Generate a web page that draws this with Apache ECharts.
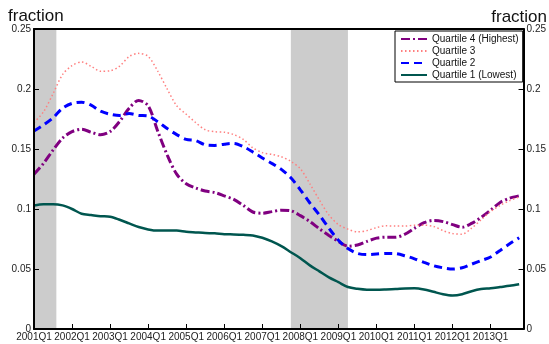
<!DOCTYPE html>
<html><head><meta charset="utf-8">
<script src="https://cdn.jsdelivr.net/npm/echarts@6/dist/echarts.min.js"></script>
<style>html,body{margin:0;padding:0;background:#fff}#c{width:549px;height:344px}</style>
</head><body><div id="c"></div>
<script>
const quarters = ['2001Q1','2001Q2','2001Q3','2001Q4','2002Q1','2002Q2','2002Q3','2002Q4','2003Q1','2003Q2','2003Q3','2003Q4',
'2004Q1','2004Q2','2004Q3','2004Q4','2005Q1','2005Q2','2005Q3','2005Q4','2006Q1','2006Q2','2006Q3','2006Q4',
'2007Q1','2007Q2','2007Q3','2007Q4','2008Q1','2008Q2','2008Q3','2008Q4','2009Q1','2009Q2','2009Q3','2009Q4',
'2010Q1','2010Q2','2010Q3','2010Q4','2011Q1','2011Q2','2011Q3','2011Q4','2012Q1','2012Q2','2012Q3','2012Q4',
'2013Q1','2013Q2','2013Q3','2013Q4'];
const xTickLabels = ['2001Q1','2002Q1','2003Q1','2004Q1','2005Q1','2006Q1','2007Q1','2008Q1','2009Q1','2010Q1','2011Q1','2012Q1','2013Q1'];
const yTicks = [0, 0.05, 0.1, 0.15, 0.2, 0.25];
const axisTitle = 'fraction';
const seriesNames = ['Quartile 4 (Highest)','Quartile 3','Quartile 2','Quartile 1 (Lowest)'];
const q4 = [0.129,0.138,0.149,0.159,0.1645,0.1665,0.164,0.1618,0.1645,0.173,0.184,0.1905,
0.186,0.165,0.145,0.129,0.121,0.1175,0.115,0.1137,0.111,0.108,0.103,0.0975,
0.0965,0.0978,0.099,0.0985,0.0945,0.0895,0.0835,0.078,0.073,0.069,0.070,0.073,
0.0757,0.0765,0.0765,0.079,0.084,0.0886,0.0905,0.0895,0.087,0.0848,0.088,0.093,
0.099,0.1055,0.109,0.111];
const q3 = [0.172,0.181,0.196,0.212,0.2195,0.2225,0.219,0.2148,0.2152,0.219,0.227,0.2297,
0.2272,0.215,0.200,0.186,0.179,0.172,0.166,0.1644,0.164,0.162,0.158,0.151,
0.147,0.1455,0.1435,0.1397,0.1335,0.121,0.1075,0.095,0.087,0.0832,0.081,0.082,
0.0845,0.086,0.0858,0.0858,0.0865,0.0865,0.0855,0.082,0.0795,0.079,0.084,0.091,
0.098,0.103,0.107,0.110];
const q2 = [0.165,0.170,0.176,0.184,0.188,0.189,0.1865,0.1815,0.179,0.178,0.1795,0.178,
0.1775,0.1728,0.167,0.162,0.158,0.157,0.1535,0.153,0.154,0.1547,0.152,0.1475,
0.1425,0.138,0.133,0.126,0.116,0.105,0.095,0.084,0.074,0.067,0.063,0.062,
0.0625,0.063,0.0628,0.061,0.0585,0.0555,0.0527,0.051,0.050,0.051,0.054,0.057,
0.060,0.0655,0.071,0.076];
const q1 = [0.103,0.104,0.104,0.103,0.100,0.096,0.095,0.094,0.0935,0.091,0.088,0.085,
0.083,0.082,0.082,0.082,0.081,0.0805,0.080,0.0797,0.079,0.0788,0.0785,0.078,
0.076,0.073,0.069,0.064,0.059,0.053,0.048,0.043,0.039,0.035,0.0335,0.0328,
0.0328,0.033,0.0333,0.0338,0.034,0.033,0.031,0.029,0.028,0.029,0.0315,0.0333,
0.034,0.035,0.036,0.0373];
// recession periods, in quarter positions (0 = 2001Q1)
const recessions = [[0, 2.35], [27, 33]];

const FONT = "'Liberation Sans', Arial, sans-serif";
const XMAX = 51.46;
const toPts = arr => arr.map((v, i) => [i, v]);

const chart = echarts.init(document.getElementById('c'), null, {renderer: 'canvas'});
const yAxisBase = {
  type: 'value', min: 0, max: 0.25, interval: 0.05,
  splitLine: {show: false}, z: 10,
  axisLine: {show: true, onZero: false, lineStyle: {color: '#000', width: 2}},
  axisTick: {show: true, inside: true, length: 5, lineStyle: {color: '#000', width: 1}},
  axisLabel: {fontSize: 10, color: '#222', fontFamily: FONT, margin: 3}
};
chart.setOption({
  animation: false,
  backgroundColor: '#fff',
  grid: {left: 34, right: 22, top: 29, bottom: 15, containLabel: false},
  graphic: [
    {type: 'text', left: 8, top: 8, style: {text: axisTitle, fontSize: 17, fill: '#111', fontFamily: FONT}},
    {type: 'text', right: 2, top: 9, style: {text: axisTitle, fontSize: 17, fill: '#111', fontFamily: FONT}}
  ],
  xAxis: [{
    type: 'value', min: 0, max: XMAX, interval: 4, z: 10,
    splitLine: {show: false},
    axisLine: {show: true, onZero: false, lineStyle: {color: '#000', width: 2}},
    axisTick: {show: true, inside: true, length: 5, lineStyle: {color: '#000', width: 1}},
    axisLabel: {fontSize: 10, color: '#222', fontFamily: FONT, margin: 3, showMaxLabel: false,
      formatter: v => (v % 4 === 0 && xTickLabels[v / 4]) || ''}
  }, {
    type: 'value', position: 'top', min: 0, max: XMAX, z: 10,
    splitLine: {show: false}, axisTick: {show: false}, axisLabel: {show: false},
    axisLine: {show: true, onZero: false, lineStyle: {color: '#000', width: 2}}
  }],
  yAxis: [
    Object.assign({}, yAxisBase, {position: 'left'}),
    Object.assign({}, yAxisBase, {position: 'right'})
  ],
  legend: {
    orient: 'vertical', left: 395, top: 31,
    itemWidth: 26, itemHeight: 8, itemGap: 2, padding: [3, 4, 2, 5],
    borderColor: '#000', borderWidth: 1, backgroundColor: '#fff',
    itemStyle: {opacity: 0},
    textStyle: {fontSize: 10, color: '#111', fontFamily: FONT},
    data: seriesNames, z: 20
  },
  series: [
    {type: 'line', name: 'recessions', data: [], z: 1, silent: true,
      markArea: {silent: true, itemStyle: {color: '#cccccc', opacity: 1},
        data: recessions.map(r => [{xAxis: r[0]}, {xAxis: r[1]}])}},
    {type: 'line', name: seriesNames[0], data: toPts(q4), symbol: 'none', smooth: 0.3, z: 3,
      lineStyle: {color: '#800080', width: 3, type: [9, 3, 2, 3]}, itemStyle: {color: '#800080'}},
    {type: 'line', name: seriesNames[1], data: toPts(q3), symbol: 'none', smooth: 0.3, z: 3,
      lineStyle: {color: '#ff7f7f', width: 1.5, type: [1.5, 2.5]}, itemStyle: {color: '#ff7f7f'}},
    {type: 'line', name: seriesNames[2], data: toPts(q2), symbol: 'none', smooth: 0.3, z: 3,
      lineStyle: {color: '#0000ff', width: 3, type: [8, 5]}, itemStyle: {color: '#0000ff'}},
    {type: 'line', name: seriesNames[3], data: toPts(q1), symbol: 'none', smooth: 0.3, z: 3,
      lineStyle: {color: '#00564f', width: 2.5, type: 'solid'}, itemStyle: {color: '#00564f'}}
  ]
});
</script></body></html>
